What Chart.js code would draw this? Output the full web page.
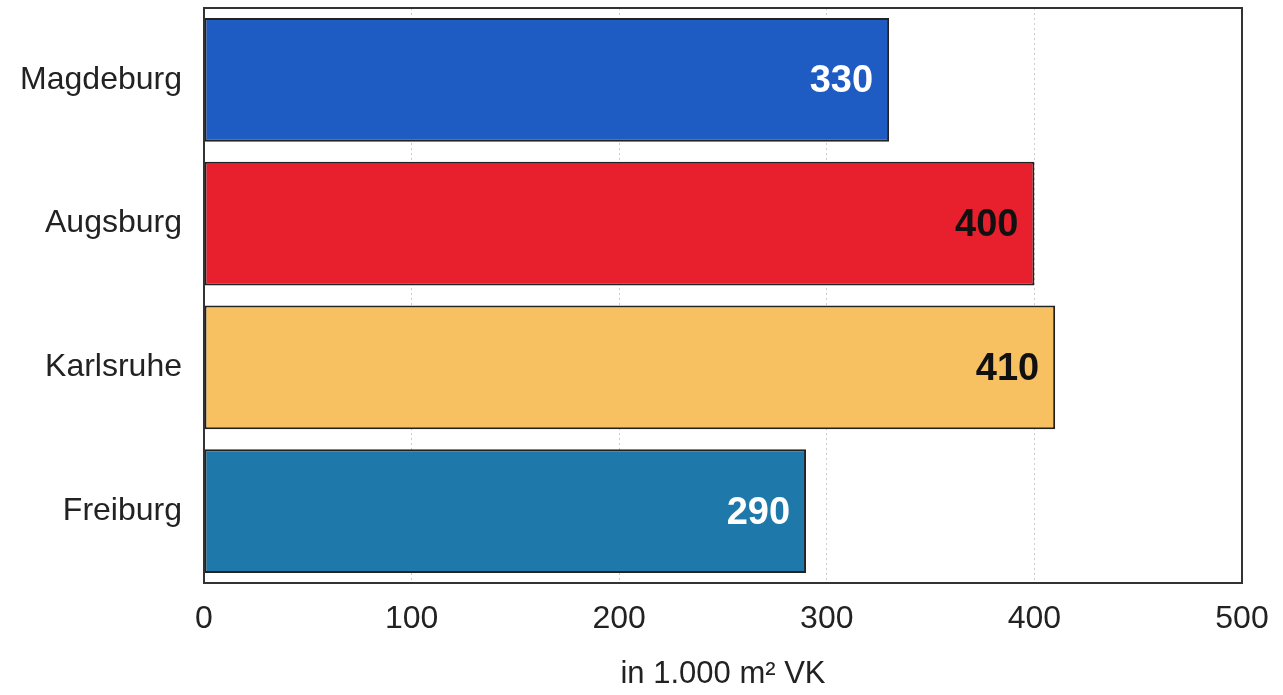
<!DOCTYPE html>
<html>
<head>
<meta charset="utf-8">
<script src="https://cdn.jsdelivr.net/npm/chart.js@4/dist/chart.umd.min.js"></script>
<style>
  html, body { margin: 0; padding: 0; background: #ffffff; }
  #wrap { width: 1283px; height: 695px; position: relative; }
</style>
</head>
<body>
<div id="wrap"><canvas id="c" width="1283" height="695"></canvas></div>
<script>
// Verkaufsfläche je Stadt (in 1.000 m² VK)
const cities = ['Magdeburg', 'Augsburg', 'Karlsruhe', 'Freiburg'];
const areaValues = [330, 400, 410, 290];
const barColors = ['#1e5bc3', '#e8202e', '#f7c060', '#1e79aa'];
const valueLabelColors = ['#ffffff', '#111111', '#111111', '#ffffff'];
const xTicks = [0, 100, 200, 300, 400, 500];
const xTitle = 'in 1.000 m\u00b2 VK';

const FONT = "'Liberation Sans', Arial, Helvetica, sans-serif";

// Frame around the whole plot area
const framePlugin = {
  id: 'frame',
  afterDatasetsDraw(chart) {
    const { ctx, chartArea: a } = chart;
    ctx.save();
    ctx.strokeStyle = '#333333';
    ctx.lineWidth = 2;
    ctx.strokeRect(a.left, a.top, a.right - a.left, a.bottom - a.top);
    ctx.restore();
  }
};

// Value printed inside the end of each bar
const valueLabelPlugin = {
  id: 'valueLabels',
  afterDatasetsDraw(chart) {
    const { ctx } = chart;
    const meta = chart.getDatasetMeta(0);
    ctx.save();
    ctx.font = 'bold 38px ' + FONT;
    ctx.textAlign = 'right';
    ctx.textBaseline = 'middle';
    meta.data.forEach((bar, i) => {
      ctx.fillStyle = valueLabelColors[i];
      ctx.fillText(String(areaValues[i]), bar.x - 16, bar.y + 2);
    });
    ctx.restore();
  }
};

new Chart(document.getElementById('c'), {
  type: 'bar',
  data: {
    labels: cities,
    datasets: [{
      data: areaValues,
      backgroundColor: barColors,
      borderColor: '#222222',
      borderWidth: 2,
      borderSkipped: false,
      barPercentage: 0.86,
      categoryPercentage: 1.0
    }]
  },
  options: {
    indexAxis: 'y',
    responsive: false,
    animation: false,
    events: [],
    layout: { padding: { top: 8, right: 41, left: 0, bottom: 0 } },
    plugins: {
      legend: { display: false },
      tooltip: { enabled: false }
    },
    scales: {
      x: {
        min: 0,
        max: 500,
        afterBuildTicks(scale) {
          scale.ticks = xTicks.map(v => ({ value: v }));
        },
        afterFit(scale) {
          scale.height = 112;
          scale.paddingLeft = 0;
          scale.paddingRight = 0;
        },
        grid: {
          display: true,
          drawTicks: false,
          color: 'rgba(160,160,160,0.55)',
          lineWidth: 1
        },
        border: { display: false, dash: [2, 3] },
        ticks: {
          padding: 17,
          color: '#222222',
          font: { family: FONT, size: 32 }
        },
        title: {
          display: true,
          text: xTitle,
          color: '#222222',
          font: { family: FONT, size: 31 },
          padding: { top: 0, bottom: 2 }
        }
      },
      y: {
        afterFit(scale) {
          scale.width = 204;
          scale.paddingTop = 0;
          scale.paddingBottom = 0;
        },
        grid: { display: false, drawTicks: false },
        border: { display: false },
        ticks: {
          padding: 22,
          color: '#222222',
          font: { family: FONT, size: 32 }
        }
      }
    }
  },
  plugins: [framePlugin, valueLabelPlugin]
});
</script>
</body>
</html>
